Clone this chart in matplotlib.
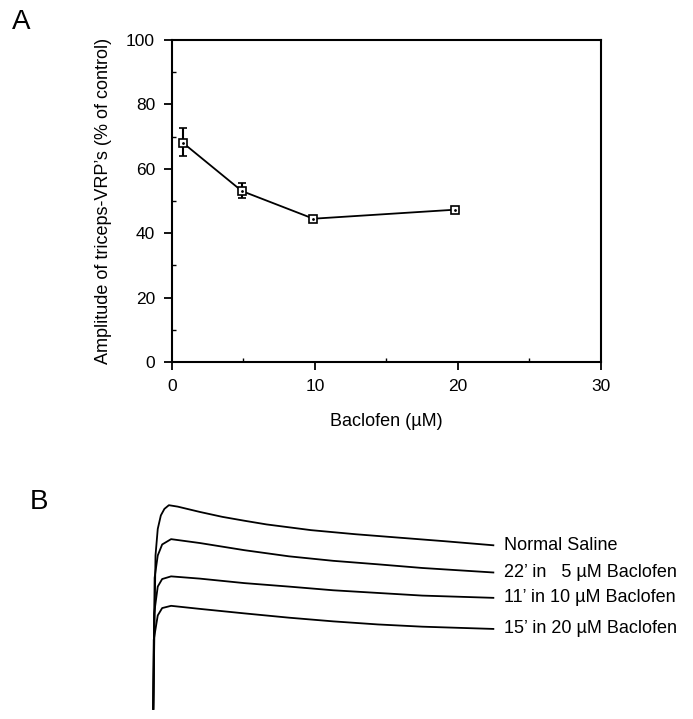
import matplotlib
matplotlib.use("Agg")
import matplotlib.pyplot as plt
from matplotlib.ticker import MultipleLocator

plt.rcParams['font.family'] = ['Liberation Sans', 'DejaVu Sans']

# panel A: amplitude vs baclofen concentration
conc = [0.8, 4.9, 9.9, 19.8]
amp_pct = [68.0, 53.1, 44.5, 47.3]
amp_err_lo = [4.0, 2.3, 0.4, 0.4]
amp_err_hi = [4.8, 2.5, 0.4, 0.4]

# panel B: averaged VRP traces (time in ms, amplitude in arbitrary mV)
t_ns = [0, 0.65, 1.31, 2.22, 3.27, 4.58, 7.19, 13.7, 20.3, 26.8, 33.3, 46.4, 59.5, 72.5, 85.6, 100]
v_ns = [0, 7.5, 8.8, 9.46, 9.78, 9.96, 9.89, 9.63, 9.39, 9.2, 9.02, 8.74, 8.54, 8.37, 8.2, 8.0]

t_5 = [0, 0.39, 1.31, 2.61, 5.23, 13.7, 26.8, 39.9, 52.9, 66.0, 79.1, 100]
v_5 = [0, 6.41, 7.5, 8.04, 8.3, 8.11, 7.76, 7.46, 7.24, 7.07, 6.89, 6.67]

t_10 = [0, 0.26, 1.31, 2.61, 5.23, 13.7, 26.8, 39.9, 52.9, 66.0, 79.1, 100]
v_10 = [0, 4.67, 5.98, 6.35, 6.48, 6.37, 6.15, 5.98, 5.8, 5.67, 5.54, 5.43]

t_20 = [0, 0.13, 1.31, 2.61, 5.23, 13.7, 26.8, 39.9, 52.9, 66.0, 79.1, 100]
v_20 = [0, 3.37, 4.57, 4.93, 5.04, 4.89, 4.67, 4.46, 4.28, 4.13, 4.02, 3.91]

trace_labels = ["Normal Saline",
                "22\u2019 in   5 \u00b5M Baclofen",
                "11\u2019 in 10 \u00b5M Baclofen",
                "15\u2019 in 20 \u00b5M Baclofen"]

fig = plt.figure(figsize=(6.93, 7.19), dpi=100)

# ---- panel A ----
ax = fig.add_axes([0.2478, 0.4965, 0.6195, 0.4479])
ax.errorbar(conc, amp_pct, yerr=[amp_err_lo, amp_err_hi], color='black',
            linewidth=1.3, elinewidth=1.5, capsize=3, capthick=1.5,
            marker='s', markersize=6, markerfacecolor='white',
            markeredgecolor='black', markeredgewidth=1.2, zorder=3)
ax.plot(conc, amp_pct, linestyle='none', marker='.', markersize=2,
        color='black', zorder=4)

ax.set_xlim(0, 30)
ax.set_ylim(0, 100)
ax.xaxis.set_major_locator(MultipleLocator(10))
ax.xaxis.set_minor_locator(MultipleLocator(5))
ax.yaxis.set_major_locator(MultipleLocator(20))
ax.yaxis.set_minor_locator(MultipleLocator(10))
ax.tick_params(which='major', direction='out', length=6, width=1.3,
               labelsize=12.5, pad=6)
ax.tick_params(which='minor', direction='in', length=3, width=1.0)
for s in ax.spines.values():
    s.set_linewidth(1.5)

ax.set_xlabel("Baclofen (\u00b5M)", fontsize=13, labelpad=14)
ax.set_ylabel("Amplitude of triceps-VRP\u2019s (% of control)", fontsize=13,
              labelpad=10)

fig.text(0.03, 0.97, "A", fontsize=20, ha='center', va='center')

# ---- panel B ----
axb = fig.add_axes([0.2212, 0.01405, 0.4907, 0.28445])
axb.set_xlim(0, 100)
axb.set_ylim(0, 10)
axb.axis('off')

traces = [(t_ns, v_ns), (t_5, v_5), (t_10, v_10), (t_20, v_20)]
for (t, v), lab in zip(traces, trace_labels):
    axb.plot(t, v, color='black', linewidth=1.3, clip_on=False)
    axb.text(t[-1] + 3, v[-1], lab, fontsize=13, ha='left', va='center',
             clip_on=False)

fig.text(0.056, 0.302, "B", fontsize=20, ha='center', va='center')

fig.savefig("out.png", dpi=100, facecolor='white')
